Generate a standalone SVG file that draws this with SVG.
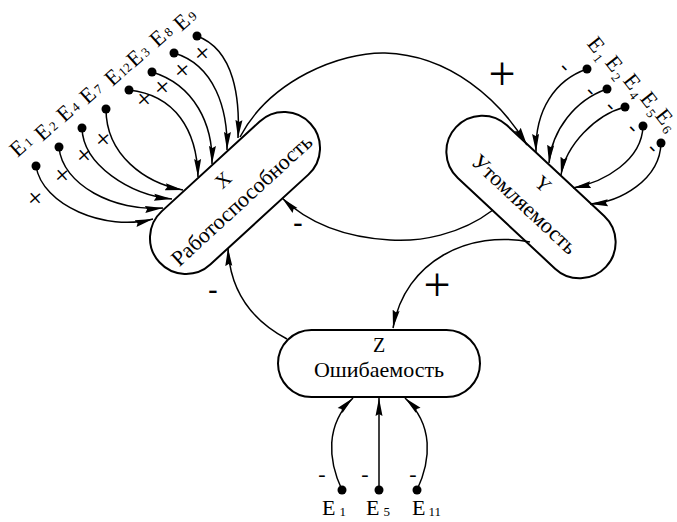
<svg xmlns="http://www.w3.org/2000/svg" width="677" height="522" viewBox="0 0 677 522" font-family="'Liberation Serif', 'DejaVu Serif', serif">
<defs>
<marker id="ah" markerWidth="19" markerHeight="9" refX="18" refY="4.5" orient="auto" markerUnits="userSpaceOnUse"><path d="M0,1 L18,4.5 L0,8 L2,4.5 z" fill="#000"/></marker>
</defs>
<style>
text{font-family:'Liberation Serif','DejaVu Serif',serif;fill:#000}
.node{fill:#fff;stroke:#000;stroke-width:2}
.c{fill:none;stroke:#000;stroke-width:1.5;marker-end:url(#ah)}
.title{font-size:20px;text-anchor:middle}
.name{font-size:22px;text-anchor:middle}
.lbl{font-size:22px}
.sub{font-size:13px}
.bigp{font-size:48px;text-anchor:middle}
.smp{font-size:28px;text-anchor:middle}
.dash{font-size:22px;text-anchor:middle}
.bdash{font-size:28px;font-weight:bold;text-anchor:middle}
.dot{fill:#000}
</style>
<rect width="677" height="522" fill="#fff"/>

<g id="nodeX" transform="translate(235,193) rotate(-42.5)">
<rect class="node" x="-102.5" y="-36" width="205" height="72" rx="36"/>
<text class="title" x="0" y="-11">X</text>
<text class="name" x="0" y="17">Работоспособность</text>
</g>
<g id="nodeY" transform="translate(531,197) rotate(43)">
<rect class="node" x="-102.5" y="-36" width="205" height="72" rx="36"/>
<text class="title" x="0" y="-11">Y</text>
<text class="name" x="0" y="17">Утомляемость</text>
</g>
<g id="nodeZ">
<rect class="node" x="278" y="330" width="202" height="67" rx="33.5"/>
<text class="title" x="379" y="352">Z</text>
<text class="name" x="379" y="377">Ошибаемость</text>
</g>

<g id="connectors">
<path class="c" d="M240,137 C270,80 340,52 385,53 C450,55 500,100 527,145"/>
<path class="c" d="M493,210 C460,235 420,242 390,240 C340,237 305,220 282,198"/>
<path class="c" d="M530,242 C470,230 405,260 393,328"/>
<path class="c" d="M287,339 C255,322 230,295 228,248"/>

<path class="c" d="M36,166 C42,205 105,232 153,219"/>
<path class="c" d="M59,147 C62,185 115,212 163,208"/>
<path class="c" d="M82,128 C83,165 130,195 172,199"/>
<path class="c" d="M106,109 C106,155 145,183 183,190"/>
<path class="c" d="M129,90 C175,95 197,130 198,177"/>
<path class="c" d="M152,72 C195,85 213,125 212,164"/>
<path class="c" d="M174,53 C215,65 228,110 227,150"/>
<path class="c" d="M197,36 C235,50 240,100 238,138"/>

<path class="c" d="M587,69 C555,80 535,110 536,152"/>
<path class="c" d="M607,89 C575,100 552,130 549,163"/>
<path class="c" d="M625,107 C595,115 566,145 561,175"/>
<path class="c" d="M643,126 C642,160 605,182 573,188"/>
<path class="c" d="M661,143 C660,180 620,202 590,204"/>

<path class="c" d="M342,490 C328,460 325,425 353,398"/>
<path class="c" d="M379,490 L379,398"/>
<path class="c" d="M417,490 C431,460 434,425 405,398"/>

<circle class="dot" cx="36" cy="166" r="4.5"/>
<circle class="dot" cx="59" cy="147" r="4.5"/>
<circle class="dot" cx="82" cy="128" r="4.5"/>
<circle class="dot" cx="106" cy="109" r="4.5"/>
<circle class="dot" cx="129" cy="90" r="4.5"/>
<circle class="dot" cx="152" cy="72" r="4.5"/>
<circle class="dot" cx="174" cy="53" r="4.5"/>
<circle class="dot" cx="197" cy="36" r="4.5"/>
<circle class="dot" cx="587" cy="69" r="4.5"/>
<circle class="dot" cx="607" cy="89" r="4.5"/>
<circle class="dot" cx="625" cy="107" r="4.5"/>
<circle class="dot" cx="643" cy="126" r="4.5"/>
<circle class="dot" cx="661" cy="143" r="4.5"/>
<circle class="dot" cx="342" cy="490" r="4.5"/>
<circle class="dot" cx="379" cy="490" r="4.5"/>
<circle class="dot" cx="417" cy="490" r="4.5"/>
</g>

<g id="labels">
<text class="bigp" x="502" y="90">+</text>
<text class="bigp" x="437" y="301">+</text>
<text class="bdash" x="298" y="231">-</text>
<text class="bdash" x="213" y="298">-</text>

<text class="smp" transform="translate(36,199) rotate(-42)" y="8">+</text>
<text class="smp" transform="translate(63,176) rotate(-42)" y="8">+</text>
<text class="smp" transform="translate(85,156) rotate(-42)" y="8">+</text>
<text class="smp" transform="translate(104,140) rotate(-42)" y="8">+</text>
<text class="smp" transform="translate(145,100) rotate(-42)" y="8">+</text>
<text class="smp" transform="translate(163,88) rotate(-42)" y="8">+</text>
<text class="smp" transform="translate(183,71) rotate(-42)" y="8">+</text>
<text class="smp" transform="translate(203,54) rotate(-42)" y="8">+</text>

<text class="dash" transform="translate(564,68) rotate(45)" y="5">-</text>
<text class="dash" transform="translate(590,92) rotate(45)" y="5">-</text>
<text class="dash" transform="translate(610,107) rotate(45)" y="5">-</text>
<text class="dash" transform="translate(632,129) rotate(45)" y="5">-</text>
<text class="dash" transform="translate(652,149) rotate(45)" y="5">-</text>

<text class="dash" x="322" y="481">-</text>
<text class="dash" x="365" y="481">-</text>
<text class="dash" x="413" y="481">-</text>

<text class="lbl" transform="translate(18,148) rotate(-42)" x="-7" y="7">E<tspan class="sub" dx="2">1</tspan></text>
<text class="lbl" transform="translate(43,132) rotate(-42)" x="-7" y="7">E<tspan class="sub" dx="2">2</tspan></text>
<text class="lbl" transform="translate(65,113) rotate(-42)" x="-7" y="7">E<tspan class="sub" dx="2">4</tspan></text>
<text class="lbl" transform="translate(88,95) rotate(-42)" x="-7" y="7">E<tspan class="sub" dx="2">7</tspan></text>
<text class="lbl" transform="translate(113,77) rotate(-42)" x="-7" y="7">E<tspan class="sub" dx="1">12</tspan></text>
<text class="lbl" transform="translate(135,58) rotate(-42)" x="-7" y="7">E<tspan class="sub" dx="2">3</tspan></text>
<text class="lbl" transform="translate(158,38) rotate(-42)" x="-7" y="7">E<tspan class="sub" dx="2">8</tspan></text>
<text class="lbl" transform="translate(182,22) rotate(-42)" x="-7" y="7">E<tspan class="sub" dx="2">9</tspan></text>

<text class="lbl" transform="translate(596,45) rotate(52)" x="-7" y="7">E<tspan class="sub" dx="2" dy="4">1</tspan></text>
<text class="lbl" transform="translate(614,64) rotate(52)" x="-7" y="7">E<tspan class="sub" dx="2" dy="4">2</tspan></text>
<text class="lbl" transform="translate(632,82) rotate(52)" x="-7" y="7">E<tspan class="sub" dx="2" dy="4">4</tspan></text>
<text class="lbl" transform="translate(649,100) rotate(52)" x="-7" y="7">E<tspan class="sub" dx="2" dy="4">5</tspan></text>
<text class="lbl" transform="translate(664,117) rotate(52)" x="-7" y="7">E<tspan class="sub" dx="2" dy="3">6</tspan></text>

<text class="lbl" x="322" y="515">E<tspan class="sub" dx="4" dy="1">1</tspan></text>
<text class="lbl" x="366" y="515">E<tspan class="sub" dx="4" dy="1">5</tspan></text>
<text class="lbl" x="412" y="515">E<tspan class="sub" dx="3" dy="1">11</tspan></text>
</g>
</svg>
